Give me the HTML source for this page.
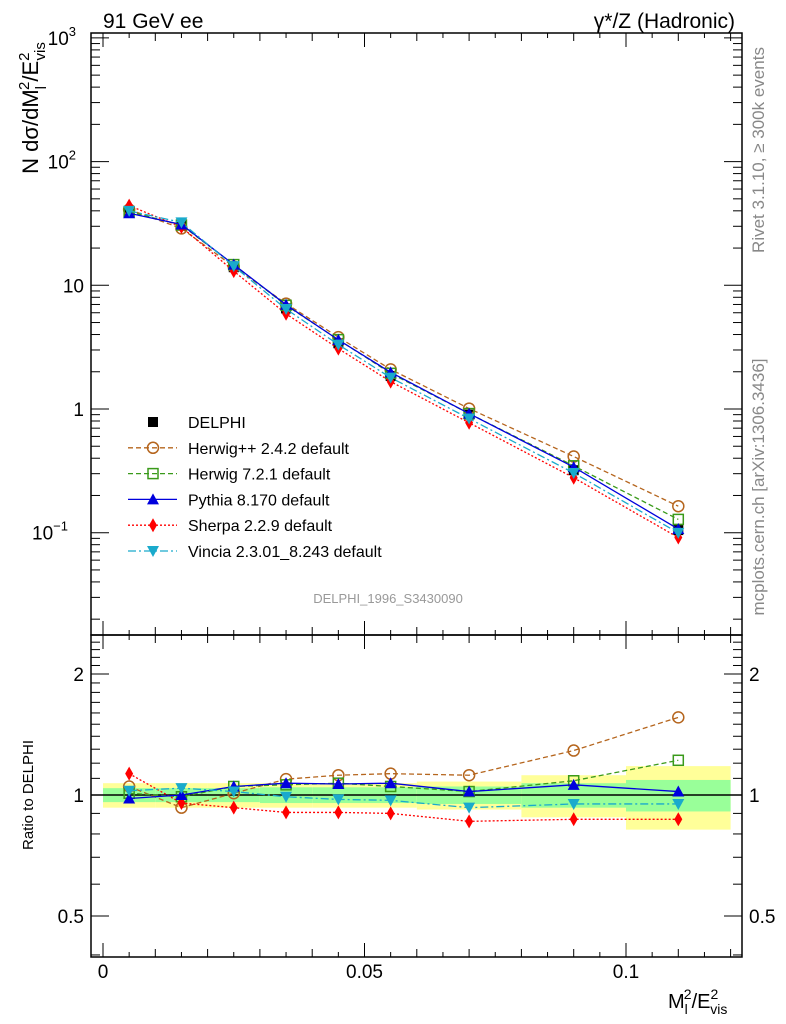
<!DOCTYPE html>
<html><head><meta charset="utf-8"><style>
body{margin:0;background:#fff}
svg{display:block;font-family:"Liberation Sans",Arial,sans-serif}
</style></head><body>
<svg id="c" width="786" height="1024" viewBox="0 0 786 1024">
<text x="103" y="28" font-size="21">91 GeV ee</text>
<text x="735" y="28" font-size="21" text-anchor="end">γ*/Z (Hadronic)</text>
<text transform="translate(764,150) rotate(-90)" font-size="17" fill="#888" text-anchor="middle">Rivet 3.1.10, ≥ 300k events</text>
<text transform="translate(764,487) rotate(-90)" font-size="17" fill="#888" text-anchor="middle">mcplots.cern.ch [arXiv:1306.3436]</text>
<text x="388" y="603" font-size="13" fill="#999" text-anchor="middle">DELPHI_1996_S3430090</text>
<text transform="translate(38,108) rotate(-90)" font-size="22" text-anchor="middle">N dσ/dM<tspan font-size="15" dy="8">l</tspan><tspan font-size="15" dy="-17" dx="-4">2</tspan><tspan dy="9">/E</tspan><tspan font-size="15" dy="-9">2</tspan><tspan font-size="15" dy="16" dx="-8">vis</tspan></text>
<text transform="translate(33,795) rotate(-90)" font-size="15" text-anchor="middle">Ratio to DELPHI</text>
<text x="668" y="1008" font-size="20">M<tspan font-size="14" dy="6">l</tspan><tspan font-size="14" dy="-15" dx="-4">2</tspan><tspan dy="9">/E</tspan><tspan font-size="14" dy="-9">2</tspan><tspan font-size="14" dy="15" dx="-8">vis</tspan></text>
<g id="g"></g>
</svg>
<script>
const binEdges=[0,0.01,0.02,0.03,0.04,0.05,0.06,0.08,0.1,0.12];
const xCenters=[0.005,0.015,0.025,0.035,0.045,0.055,0.07,0.09,0.11];
const delphi=[39,31,14,6.5,3.4,1.85,0.9,0.32,0.105];
const bandYellow=[0.07,0.07,0.07,0.07,0.07,0.07,0.08,0.12,0.18];
const bandGreen=[0.04,0.04,0.04,0.045,0.045,0.045,0.05,0.07,0.09];
const ratioHerwigPP=[1.05,0.93,1.01,1.095,1.12,1.13,1.12,1.29,1.56];
const ratioHerwig7=[1.01,0.99,1.05,1.06,1.07,1.05,1.02,1.085,1.22];
const ratioPythia=[0.98,1.0,1.05,1.07,1.065,1.07,1.02,1.06,1.02];
const ratioSherpa=[1.13,0.955,0.93,0.905,0.905,0.9,0.86,0.87,0.87];
const ratioVincia=[1.025,1.04,1.02,0.99,0.975,0.97,0.93,0.95,0.95];
const xTicks=[0,0.05,0.1];
const xTickLabels=["0","0.05","0.1"];

const NS="http://www.w3.org/2000/svg";
const g=document.getElementById('g');
const L=91,R=742,T=33,M=635,B=957;
const X=v=>103+v*5230;
const Y=v=>409-123.7*Math.log10(v);
const RY=r=>795-121*Math.log2(r);
function el(t,a,p){const e=document.createElementNS(NS,t);for(const k in a)e.setAttribute(k,a[k]);(p||g).appendChild(e);return e;}

for(let i=0;i<delphi.length;i++){
  const x0=X(binEdges[i]),x1=X(binEdges[i+1]);
  const b=el('rect',{x:x0,y:RY(1+bandYellow[i]),width:x1-x0,height:RY(1-bandYellow[i])-RY(1+bandYellow[i]),fill:'#ffff99'});
  
  
  const c=el('rect',{x:x0,y:RY(1+bandGreen[i]),width:x1-x0,height:RY(1-bandGreen[i])-RY(1+bandGreen[i]),fill:'#99ff99'});
  
  
}
const one=el('line',{x1:L,x2:R,y1:RY(1),y2:RY(1),stroke:'#000','stroke-width':1.5});



function marker(type,x,y,col,name){
  let m;
  if(type==='sq') m=el('rect',{x:x-5,y:y-5,width:10,height:10,fill:col});
  else if(type=='osq') m=el('rect',{x:x-5,y:y-5,width:10,height:10,fill:'none',stroke:col,'stroke-width':1.5});
  else if(type=='oc') m=el('circle',{cx:x,cy:y,r:5.5,fill:'none',stroke:col,'stroke-width':1.5});
  else if(type=='tu') m=el('path',{d:`M${x} ${y-6}L${x+6} ${y+5}L${x-6} ${y+5}Z`,fill:col});
  else if(type=='td') m=el('path',{d:`M${x} ${y+6}L${x+6} ${y-5}L${x-6} ${y-5}Z`,fill:col});
  else if(type=='di') m=el('path',{d:`M${x} ${y-7}L${x+4} ${y}L${x} ${y+7}L${x-4} ${y}Z`,fill:col});
  
  
}
delphi.forEach((v,i)=>marker('sq',X(xCenters[i]),Y(v),'#000','delphi-point'));
const series=[
 {n:'herwigpp',r:ratioHerwigPP,c:'#b5651d',d:'5,3',m:'oc'},
 {n:'herwig7',r:ratioHerwig7,c:'#3a9a1a',d:'5,3',m:'osq'},
 {n:'sherpa',r:ratioSherpa,c:'#ff0000',d:'2,2',m:'di'},
 {n:'pythia',r:ratioPythia,c:'#0000dd',d:'',m:'tu'},
 {n:'vincia',r:ratioVincia,c:'#1aaacc',d:'8,3,2,3',m:'td'},
];
series.forEach(s=>{
  const mp=s.r.map((r,i)=>[X(xCenters[i]),Y(delphi[i]*r)]);
  const rp=s.r.map((r,i)=>[X(xCenters[i]),RY(r)]);
  const a=el('polyline',{points:mp.join(' '),fill:'none',stroke:s.c,'stroke-width':1.3,'stroke-dasharray':s.d});
  
  
  const b=el('polyline',{points:rp.join(' '),fill:'none',stroke:s.c,'stroke-width':1.3,'stroke-dasharray':s.d});
  
  
  mp.forEach(p=>marker(s.m,p[0],p[1],s.c,s.n+'-point'));
  rp.forEach(p=>marker(s.m,p[0],p[1],s.c,s.n+'-ratio-point'));
});

[[T,M],[M,B]].forEach(([a,b])=>{
  const f=el('rect',{x:L,y:a,width:R-L,height:b-a,fill:'none',stroke:'#000','stroke-width':1.5});
  
  
});
for(let k=0;k<=24;k++){
  const v=k*0.005,x=X(v);if(x>R)break;
  const len=k%10==0?14:(k%2==0?8:5);
  [[M,1],[T,1],[B,-1],[M,-1]].forEach(([y,d])=>el('line',{x1:x,x2:x,y1:y,y2:y+d*len,stroke:'#000'}));
}
xTicks.forEach((v,i)=>{
  const t=el('text',{x:X(v),y:978,'font-size':19,'text-anchor':'middle'});t.textContent=xTickLabels[i];
  
  
});
for(let e=-2;e<=3;e++)for(let m=1;m<=9;m++){
  const v=m*Math.pow(10,e),y=Y(v);if(y<T||y>M)continue;
  const len=m==1?18:9;
  el('line',{x1:L,x2:L+len,y1:y,y2:y,stroke:'#000'});
  el('line',{x1:R,x2:R-len,y1:y,y2:y,stroke:'#000'});
}
const yLab=[[1000,'10','3'],[100,'10','2'],[10,'10',''],[1,'1',''],[0.1,'10','−1']];
yLab.forEach(([v,b,s])=>{
  const t=el('text',{x:s?(s.length>1?68:76):84,y:Y(v)+7,'font-size':19,'text-anchor':'end'});
  t.textContent=b;
  if(s){const sp=el('tspan',{'font-size':13,dy:-9},t);sp.textContent=s;}
  
  
});
for(let r=0.4;r<=2.5;r+=0.1){
  const y=RY(r);if(y<M||y>B)continue;
  const maj=Math.abs(r-0.5)<1e-6||Math.abs(r-1)<1e-6||Math.abs(r-2)<1e-6;
  const len=maj?18:9;
  el('line',{x1:L,x2:L+len,y1:y,y2:y,stroke:'#000'});
  el('line',{x1:R,x2:R-len,y1:y,y2:y,stroke:'#000'});
}
[[2,'2'],[1,'1'],[0.5,'0.5']].forEach(([r,s])=>{
  const a=el('text',{x:84,y:RY(r)+7,'font-size':19,'text-anchor':'end'});a.textContent=s;
  
  
  const b=el('text',{x:749,y:RY(r)+7,'font-size':19});b.textContent=s;
  
  
});
const leg=[['DELPHI','#000','','sq',false],['Herwig++ 2.4.2 default','#b5651d','5,3','oc',true],['Herwig 7.2.1 default','#3a9a1a','5,3','osq',true],['Pythia 8.170 default','#0000dd','','tu',true],['Sherpa 2.2.9 default','#ff0000','2,2','di',true],['Vincia 2.3.01_8.243 default','#1aaacc','8,3,2,3','td',true]];
leg.forEach((l,i)=>{
  const y=422+i*25.8;
  if(l[4]){const ln=el('line',{x1:128,x2:177,y1:y,y2:y,stroke:l[1],'stroke-width':1.3,'stroke-dasharray':l[2]});
    
    }
  marker(l[3],153,y,l[1],'legend-marker');
  const t=el('text',{x:188,y:y+6,'font-size':16});t.textContent=l[0];
  
  
});
</script>
</body></html>
